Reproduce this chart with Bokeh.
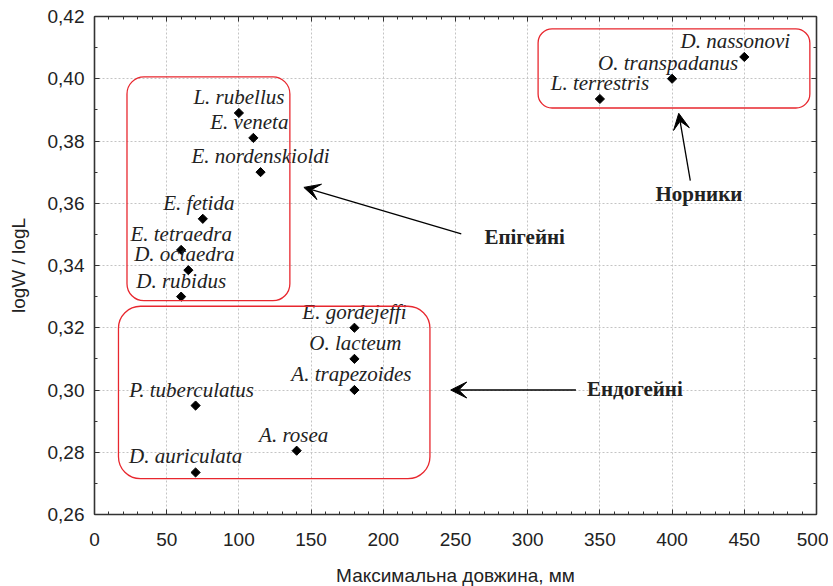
import math
from bokeh.plotting import figure
from bokeh.models import (ColumnDataSource, LinearAxis, SingleIntervalTicker, CustomJSTickFormatter,
                          Arrow, VeeHead, BoxAnnotation, Range1d)
from bokeh.core.properties import value
from bokeh.embed import file_html
from bokeh.resources import INLINE

# ---- data ----
species = ["L. rubellus", "E. veneta", "E. nordenskioldi", "E. fetida", "E. tetraedra",
           "D. octaedra", "D. rubidus", "E. gordejeffi", "O. lacteum", "A. trapezoides",
           "P. tuberculatus", "A. rosea", "D. auriculata", "D. nassonovi",
           "O. transpadanus", "L. terrestris"]
max_length = [100, 110, 115, 75, 60, 65, 60, 180, 180, 180, 70, 140, 70, 450, 400, 350]
log_ratio = [0.389, 0.381, 0.370, 0.355, 0.345, 0.3385, 0.330, 0.320, 0.310, 0.300,
             0.295, 0.2805, 0.2735, 0.407, 0.400, 0.3935]
label_dx = [0, -4, 0, -4, 0, -4, 0, 0, 1, -3, -4, -3, -10, -9, -4, 0]

group_names = ["Епігейні", "Ендогейні", "Норники"]
group_text_x = [270, 341, 418.6]
group_text_y = [0.3493, 0.3002, 0.3631]
group_align = ["left", "left", "center"]
arrow_tail = [(254, 0.3502), (333.4, 0.300), (412.6, 0.3673)]
arrow_head = [(145, 0.3651), (246.7, 0.300), (404.6, 0.3889)]
group_boxes = [(22.5, 135.3, 0.4006, 0.3287, 17), (16.6, 232.3, 0.3269, 0.2715, 22),
               (307.2, 495.4, 0.4160, 0.3906, 14)]

x_title = "Максимальна довжина, мм"
y_title = "logW / logL"

# ---- figure ----
p = figure(frame_width=722, frame_height=498, output_backend="svg", toolbar_location=None,
           x_range=Range1d(0, 500), y_range=Range1d(0.26, 0.42),
           min_border_left=94, min_border_right=12, min_border_top=16, min_border_bottom=10)
p.outline_line_color = None
p.background_fill_color = "white"
p.border_fill_color = "white"

xt = SingleIntervalTicker(interval=50, num_minor_ticks=5)
yt = SingleIntervalTicker(interval=0.02, num_minor_ticks=2)
p.xaxis.ticker = xt
p.yaxis.ticker = yt
p.yaxis.formatter = CustomJSTickFormatter(code="return tick.toFixed(2).replace('.', ',');")

axis_color = "#333333"
def style_axis(ax):
    ax.axis_line_color = axis_color
    ax.axis_line_width = 1.6
    ax.major_tick_line_color = axis_color
    ax.minor_tick_line_color = axis_color
    ax.major_tick_in = 5
    ax.major_tick_out = 0
    ax.minor_tick_in = 3
    ax.minor_tick_out = 0
    ax.major_label_text_font = "Liberation Sans"
    ax.major_label_text_font_size = "19px"
    ax.major_label_text_color = "#222222"
    ax.major_label_standoff = 12

for ax in (p.xaxis[0], p.yaxis[0]):
    style_axis(ax)
for ax, title in ((p.xaxis[0], x_title), (p.yaxis[0], y_title)):
    ax.axis_label = title
    ax.axis_label_text_font = "Liberation Sans"
    ax.axis_label_text_font_size = "19px"
    ax.axis_label_text_font_style = "normal"
    ax.axis_label_text_color = "#222222"
p.xaxis.major_label_standoff = 18
p.xaxis.axis_label_standoff = 16
p.yaxis.major_label_standoff = 10
p.yaxis.axis_label_standoff = 16

empty = CustomJSTickFormatter(code="return '';")
top_ax = LinearAxis(ticker=SingleIntervalTicker(interval=50, num_minor_ticks=5), formatter=empty)
right_ax = LinearAxis(ticker=SingleIntervalTicker(interval=0.02, num_minor_ticks=2), formatter=empty)
style_axis(top_ax)
style_axis(right_ax)
top_ax.major_label_standoff = 0
right_ax.major_label_standoff = 0
p.add_layout(top_ax, "above")
p.add_layout(right_ax, "right")

p.xgrid.grid_line_color = "#c4c4c4"
p.xgrid.grid_line_dash = "2 2"
p.ygrid.grid_line_color = "#c4c4c4"
p.ygrid.grid_line_dash = "2 2"

# boxes
for (l, r, t, b, rad) in group_boxes:
    p.add_layout(BoxAnnotation(left=l, right=r, top=t, bottom=b, fill_color=None,
                               line_color="#e8272e", line_alpha=1.0, line_width=1.3,
                               border_radius=rad))

# arrows
for (tx, ty), (hx, hy) in zip(arrow_tail, arrow_head):
    p.add_layout(Arrow(x_start=tx, y_start=ty, x_end=hx, y_end=hy, line_color="black",
                       line_width=1.3,
                       end=VeeHead(size=16, fill_color="black", line_color="black", line_width=1)))

src = ColumnDataSource(dict(x=max_length, y=log_ratio, name=species, dx=label_dx))
p.scatter("x", "y", source=src, marker="square", size=6.5, angle=math.pi / 4,
          fill_color="black", line_color="black")
p.text("x", "y", text="name", source=src, x_offset="dx", y_offset=-16,
       text_align="center", text_baseline="alphabetic",
       text_font=value("Liberation Serif"), text_font_style="italic",
       text_font_size="21px", text_color="#222222")

gsrc = ColumnDataSource(dict(x=group_text_x, y=group_text_y, name=group_names, align=group_align))
p.text("x", "y", text="name", source=gsrc, text_align="align", text_baseline="middle",
       text_font=value("Liberation Serif"), text_font_style="bold",
       text_font_size="21px", text_color="#222222")

open("out.html", "w").write(file_html(p, INLINE))
